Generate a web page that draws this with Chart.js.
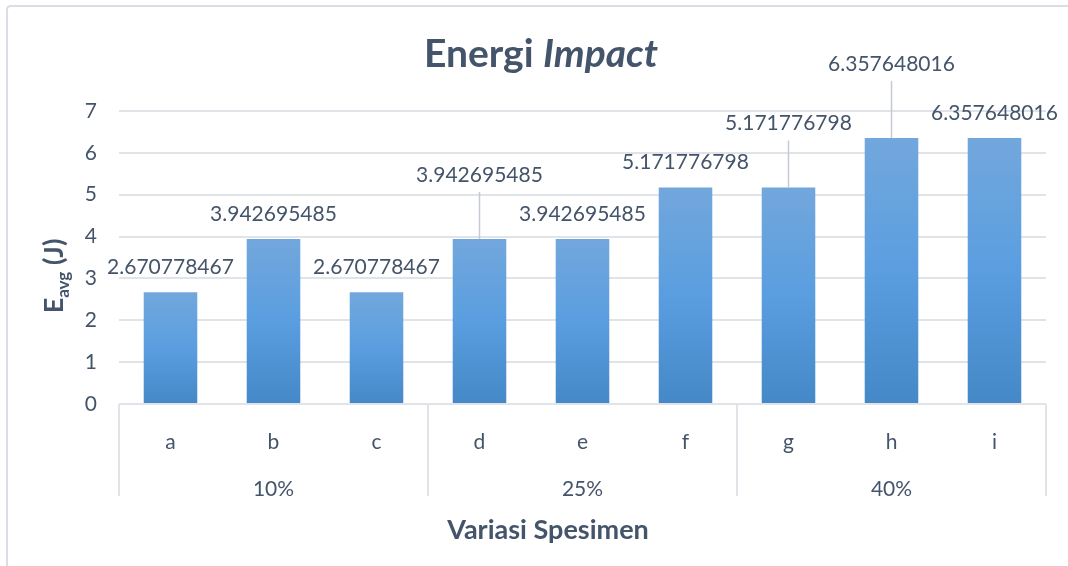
<!DOCTYPE html>
<html>
<head>
<meta charset="utf-8">
<script src="https://cdn.jsdelivr.net/npm/chart.js@4.4.0/dist/chart.umd.min.js"></script>
<style>
  html, body { margin: 0; padding: 0; background: #fff; }
</style>
</head>
<body>
<canvas id="impactChart" width="1068" height="566"></canvas>
<script>
// data
const specimens = ['a', 'b', 'c', 'd', 'e', 'f', 'g', 'h', 'i'];
const groupLabels = ['', '10%', '', '', '25%', '', '', '40%', ''];
const energyAvg = [2.670778467, 3.942695485, 2.670778467, 3.942695485, 3.942695485,
                   5.171776798, 5.171776798, 6.357648016, 6.357648016];
const yTicks = [0, 1, 2, 3, 4, 5, 6, 7];

const textColor = '#44546a';
const lineColor = '#e0e3e8';
const fontFamily = 'Lato, "Open Sans", sans-serif';

// some labels sit higher with a leader line, like in the Excel original
const labelLift = { 3: 39, 6: 39, 7: 49 };

function barFill(ctx) {
  const chart = ctx.chart;
  const y = chart.scales.y;
  if (!y || ctx.dataIndex === undefined) return '#5b9bd5';
  const top = y.getPixelForValue(energyAvg[ctx.dataIndex]);
  const bottom = y.getPixelForValue(0);
  if (!isFinite(top) || !isFinite(bottom)) return '#5b9bd5';
  const g = chart.ctx.createLinearGradient(0, top, 0, bottom);
  g.addColorStop(0, '#72a7dc');
  g.addColorStop(0.5, '#5a9ee0');
  g.addColorStop(1, '#4588c7');
  return g;
}

const chartDecor = {
  id: 'chartDecor',
  beforeDraw(chart) {
    const c = chart.ctx;
    c.save();
    c.strokeStyle = '#dadee4';
    c.lineWidth = 2;
    c.beginPath();
    c.moveTo(7, chart.height);
    c.lineTo(7, 10);
    c.quadraticCurveTo(7, 6, 11, 6);
    c.lineTo(chart.width, 6);
    c.stroke();
    c.restore();
  },
  afterDatasetsDraw(chart) {
    const c = chart.ctx;
    const meta = chart.getDatasetMeta(0);
    c.save();
    c.font = '21px ' + fontFamily;
    c.textAlign = 'center';
    c.textBaseline = 'middle';
    meta.data.forEach((bar, i) => {
      const lift = labelLift[i] || 0;
      const cy = bar.y - 25 - lift;
      if (lift) {
        c.strokeStyle = '#c3cad4';
        c.lineWidth = 1.5;
        c.beginPath();
        c.moveTo(bar.x, bar.y);
        c.lineTo(bar.x, cy + 17);
        c.stroke();
      }
      c.fillStyle = textColor;
      c.fillText(String(energyAvg[i]), bar.x, cy);
    });
    c.restore();
  },
  afterDraw(chart) {
    const c = chart.ctx;
    const x = chart.scales.x;
    const area = chart.chartArea;
    c.save();
    // group separators under the axis
    c.strokeStyle = lineColor;
    c.lineWidth = 2;
    for (let i = 0; i <= specimens.length; i += 3) {
      let px;
      if (i === 0) px = area.left;
      else if (i === specimens.length) px = area.right;
      else px = (x.getPixelForValue(i - 1) + x.getPixelForValue(i)) / 2;
      c.beginPath();
      c.moveTo(px, area.bottom);
      c.lineTo(px, area.bottom + 92);
      c.stroke();
    }

    // title: "Energi" bold + "Impact" bold italic
    c.fillStyle = textColor;
    c.textBaseline = 'alphabetic';
    c.textAlign = 'left';
    const f1 = 'bold 39px ' + fontFamily;
    const f2 = 'italic bold 39px ' + fontFamily;
    c.font = f1;
    const w1 = c.measureText('Energi ').width;
    c.font = f2;
    const w2 = c.measureText('Impact').width;
    let tx = 541 - (w1 + w2) / 2;
    c.font = f1;
    c.fillText('Energi ', tx, 67);
    c.font = f2;
    c.fillText('Impact', tx + w1, 67);

    // x axis title
    c.font = 'bold 27px ' + fontFamily;
    c.textAlign = 'center';
    c.fillText('Variasi Spesimen', 548, 539);

    // y axis title with subscript
    c.translate(0, 276);
    c.rotate(-Math.PI / 2);
    const fb = 'bold 27px ' + fontFamily;
    const fs = 'bold 17px ' + fontFamily;
    c.textAlign = 'left';
    c.font = fb;
    const wE = c.measureText('E').width;
    const wJ = c.measureText(' (J)').width;
    c.font = fs;
    const wA = c.measureText('avg').width;
    let sx = -(wE + wA + wJ) / 2;
    c.font = fb;
    c.fillText('E', sx, 63);
    c.font = fs;
    c.fillText('avg', sx + wE, 69);
    c.font = fb;
    c.fillText(' (J)', sx + wE + wA, 63);
    c.restore();
  }
};

const ctx = document.getElementById('impactChart').getContext('2d');
const impactChart = new Chart(ctx, {
  type: 'bar',
  data: {
    labels: specimens,
    datasets: [{
      label: 'Energi Impact',
      data: energyAvg,
      backgroundColor: barFill,
      borderWidth: 0,
      barPercentage: 0.52,
      categoryPercentage: 1
    }]
  },
  options: {
    responsive: false,
    animation: false,
    devicePixelRatio: 1,
    layout: { padding: { top: 111, right: 22, left: 0, bottom: 0 } },
    plugins: {
      legend: { display: false },
      tooltip: { enabled: false },
      title: { display: false }
    },
    scales: {
      y: {
        min: 0,
        max: 7,
        afterBuildTicks: (s) => { s.ticks = yTicks.map(v => ({ value: v })); },
        ticks: { color: textColor, font: { family: fontFamily, size: 21 }, padding: 22 },
        grid: { color: lineColor, lineWidth: 2, drawTicks: false },
        border: { display: false },
        afterFit: (s) => { s.width = 119; }
      },
      x: {
        position: 'bottom',
        grid: { display: false },
        border: { display: false },
        ticks: { color: textColor, font: { family: fontFamily, size: 21 }, padding: 18 },
        afterFit: (s) => { s.height = 60; }
      },
      xg: {
        type: 'category',
        labels: groupLabels,
        position: 'bottom',
        offset: true,
        grid: { display: false },
        border: { display: false },
        ticks: { color: textColor, font: { family: fontFamily, size: 21 }, padding: 5, autoSkip: false, maxRotation: 0 },
        afterFit: (s) => { s.height = 102; }
      }
    }
  },
  plugins: [chartDecor]
});
</script>
</body>
</html>
